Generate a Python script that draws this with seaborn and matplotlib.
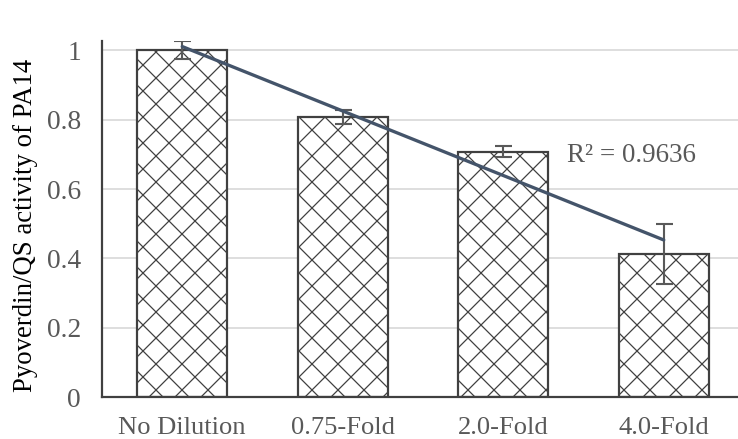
import numpy as np
import pandas as pd
import matplotlib
matplotlib.use("Agg")
import matplotlib.pyplot as plt
import seaborn as sns

# data
categories = ["No Dilution", "0.75-Fold", "2.0-Fold", "4.0-Fold"]
activity = [1.0, 0.807, 0.708, 0.413]
errors = [0.026, 0.02, 0.015, 0.087]
r2_label = "R\u00b2 = 0.9636"

# lower dpi so the hatch cells come out about 13 px wide, like the Excel pattern
DPI = 78
PX = 72 / DPI  # points per pixel

sns.set_theme(style="white")
plt.rcParams['font.family'] = ['Liberation Serif', 'DejaVu Serif']
plt.rcParams['hatch.linewidth'] = 1.25 * PX
plt.rcParams['hatch.color'] = 'black'

df = pd.DataFrame({"condition": categories, "activity": activity})

fig = plt.figure(figsize=(738 / DPI, 439 / DPI), dpi=DPI)
ax = fig.add_axes([102 / 738, 42 / 439, 642 / 738, 356 / 439])

sns.barplot(data=df, x="condition", y="activity", ax=ax, width=0.56,
            color="white", edgecolor="#404040", linewidth=2.2 * PX, errorbar=None,
            zorder=2)
for p in ax.patches:
    p.set_hatch('x')

x = np.arange(len(categories))
ax.errorbar(x, activity, yerr=errors, fmt='none', ecolor="#595959",
            elinewidth=2.1 * PX, capsize=8.5 * PX, capthick=2.1 * PX, zorder=3)

# linear trendline
slope, intercept = np.polyfit(x + 1, activity, 1)
ax.plot(x, slope * (x + 1) + intercept, color="#44546A", linewidth=3.3 * PX, zorder=4)
ax.text(2.395, 0.698, r2_label, fontsize=27 * PX, color="#595959", va="center")

ax.set_ylim(0, 1.027)
ax.set_xlim(-0.5, 3.5)
ax.set_yticks([0, 0.2, 0.4, 0.6, 0.8, 1.0])
ax.set_yticklabels(["0", "0.2", "0.4", "0.6", "0.8", "1"])
ax.yaxis.grid(True, color="#d9d9d9", linewidth=1.7 * PX)
ax.set_axisbelow(True)
ax.tick_params(axis='both', labelsize=26.5 * PX, labelcolor="#595959", length=0)
ax.tick_params(axis='y', labelsize=27.5 * PX, pad=21 * PX)
ax.tick_params(axis='x', pad=20 * PX)
ax.set_xlabel("")
ax.set_ylabel("Pyoverdin/QS activity of PA14", fontsize=26.7 * PX, color="black")
ax.yaxis.set_label_coords(-0.099, 0.483)

for s in ["top", "right"]:
    ax.spines[s].set_visible(False)
for s in ["left", "bottom"]:
    ax.spines[s].set_color("#404040")
    ax.spines[s].set_linewidth(2.2 * PX)

fig.savefig("out.png", dpi=DPI)
